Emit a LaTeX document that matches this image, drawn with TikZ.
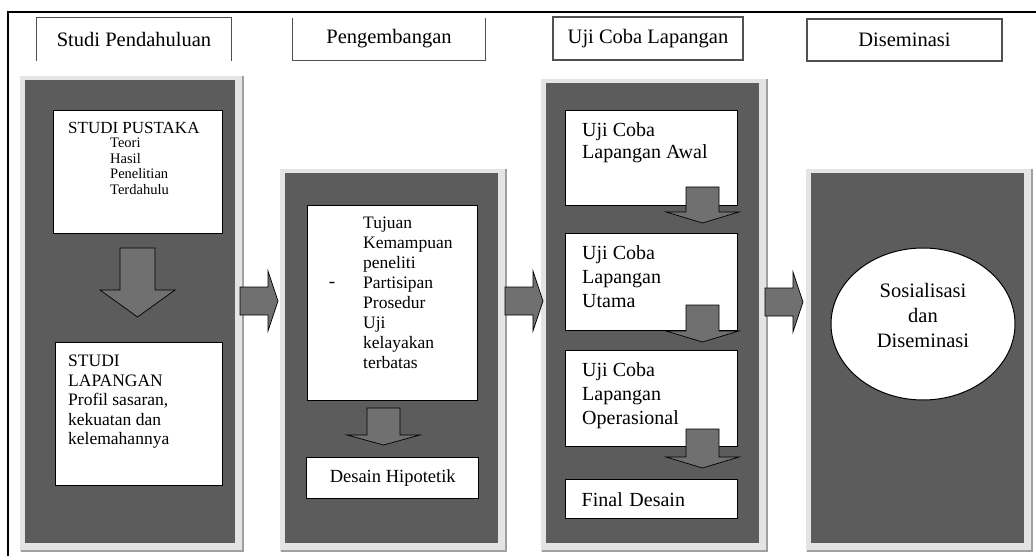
\documentclass[tikz,border=0pt]{standalone}
\usepackage{fontspec}
\setmainfont{Liberation Serif}
\usetikzlibrary{shapes.geometric}
\definecolor{panel}{HTML}{5C5C5C}
\definecolor{bingkai}{HTML}{E4E4E4}
\definecolor{bayang}{HTML}{A0A0A0}
\definecolor{panah}{HTML}{707070}
\definecolor{garisjudul}{HTML}{505050}
\newcommand{\ukuran}[2]{\fontsize{#1}{#2}\selectfont}

\begin{document}
\begin{tikzpicture}[x=1pt,y=-1pt,
		every node/.append style={inner sep=0pt},
		judul/.style={rectangle, fill=white, font=\ukuran{20.5}{22}},
		kotak/.style={rectangle, draw=black, line width=1.4pt, fill=white, anchor=north west},
		isi/.style={anchor=north west, align=left},
		panahblok/.style={draw=black, line width=0.7pt, fill=panah, line join=miter}]
	\useasboundingbox (0,0) rectangle (1036,556);
	\draw [black, line width=2pt] (8,556) -- (8,12) -- (1036,12);

	\node [judul, minimum width=194, minimum height=43] (h1) at (134,39.5) {Studi Pendahuluan};
	\draw [garisjudul, line width=1.3pt] (h1.south west) -- (h1.north west) -- (h1.north east) -- (h1.south east);
	\node [judul, minimum width=192, minimum height=42] (h2) at (389,39) {Pengembangan};
	\draw [garisjudul, line width=1.3pt] (h2.north west) -- (h2.south west) -- (h2.south east) -- (h2.north east);
	\node [judul, draw=garisjudul, line width=1.3pt, minimum width=190, minimum height=43] (h3) at (648,38.5) {Uji Coba Lapangan};
	\node [judul, draw=garisjudul, line width=1.3pt, minimum width=195, minimum height=42] (h4) at (904.5,40) {Diseminasi};

	\foreach \xa/\ya/\xb in {25/80/235, 285/173/498, 546/83/759, 811/173/1024} {
		\fill [bingkai] (\xa-5,\ya-4) rectangle (\xb+8,552);
		\draw [bayang, line width=1.5pt] (\xb+8,\ya-4) -- (\xb+8,551) -- (\xa-4,551);
		\fill [panel] (\xa,\ya) rectangle (\xb,543);
	}

	\node [kotak, minimum width=169, minimum height=123] (b1) at (53,110) {};
	\node [isi, font=\ukuran{17}{17}] (t1) at ([shift={(15,12)}]b1.north west) {STUDI PUSTAKA};
	\node [isi, font=\ukuran{14.5}{15.5}] (t1b) at ([shift={(57,28)}]b1.north west)
		{Teori\\Hasil\\Penelitian\\Terdahulu};
	\node [kotak, minimum width=167, minimum height=143] (b2) at (55,342) {};
	\node [isi, font=\ukuran{17.5}{19.5}] (t2) at ([shift={(13,13)}]b2.north west)
		{STUDI\\LAPANGAN\\Profil sasaran,\\kekuatan dan\\kelemahannya};

	\node [kotak, minimum width=170, minimum height=195] (c1) at (307,205) {};
	\node [isi, font=\ukuran{17.5}{20}] (t3) at ([shift={(56,12)}]c1.north west)
		{Tujuan\\Kemampuan\\peneliti\\Partisipan\\Prosedur\\Uji\\kelayakan\\terbatas};
	\node [font=\ukuran{19}{20}] (strip) at ([shift={(25,80)}]c1.north west) {-};
	\node [kotak, minimum width=172, minimum height=41, font=\ukuran{18.5}{20}] (c2) at (306,457) {Desain Hipotetik};

	\node [kotak, minimum width=172, minimum height=95] (d1) at (565,110) {};
	\node [isi, font=\ukuran{20}{22.5}] (t4) at ([shift={(17,12)}]d1.north west) {Uji Coba\\Lapangan Awal};
	\node [kotak, minimum width=172, minimum height=97] (d2) at (565,233) {};
	\node [isi, font=\ukuran{20}{24}] (t5) at ([shift={(17,12)}]d2.north west) {Uji Coba\\Lapangan\\Utama};
	\node [kotak, minimum width=172, minimum height=96] (d3) at (565,350) {};
	\node [isi, font=\ukuran{20}{24}] (t6) at ([shift={(17,12)}]d3.north west) {Uji Coba\\Lapangan\\Operasional};
	\node [kotak, minimum width=172, minimum height=39, text width=140, align=left, font=\ukuran{20}{23}] (d4) at (565,479) {Final Desain};

	\node [ellipse, draw=black, line width=1pt, fill=white, minimum width=184, minimum height=152] (sos) at (923,324) {};
	\node [align=center, font=\ukuran{20.5}{25}] (sosteks) at ([yshift=9pt]sos.center) {Sosialisasi\\dan\\Diseminasi};

	\draw [panahblok] (120,248) -- (155,248) -- (155,290) -- (175,290) -- (137.5,317) -- (100,290) -- (120,290) -- cycle;
	\draw [panahblok] (367,408) -- (400,408) -- (400,435) -- (420,435) -- (383.5,445) -- (347,435) -- (367,435) -- cycle;
	\foreach \ya/\yb in {187/212, 305/331, 429/457}
		\draw [panahblok] (686,\ya) -- (719,\ya) -- (719,\yb) -- (739,\yb) -- (702.5,\yb+11) -- (666,\yb) -- (686,\yb) -- cycle;
	\foreach \xa/\ya in {240/301, 505/301, 765/302}
		\draw [panahblok] (\xa,\ya-14) -- ++(28,0) -- ++(0,-16) -- ++(10,30) -- ++(-10,30) -- ++(0,-16) -- ++(-28,0) -- cycle;
\end{tikzpicture}
\end{document}
